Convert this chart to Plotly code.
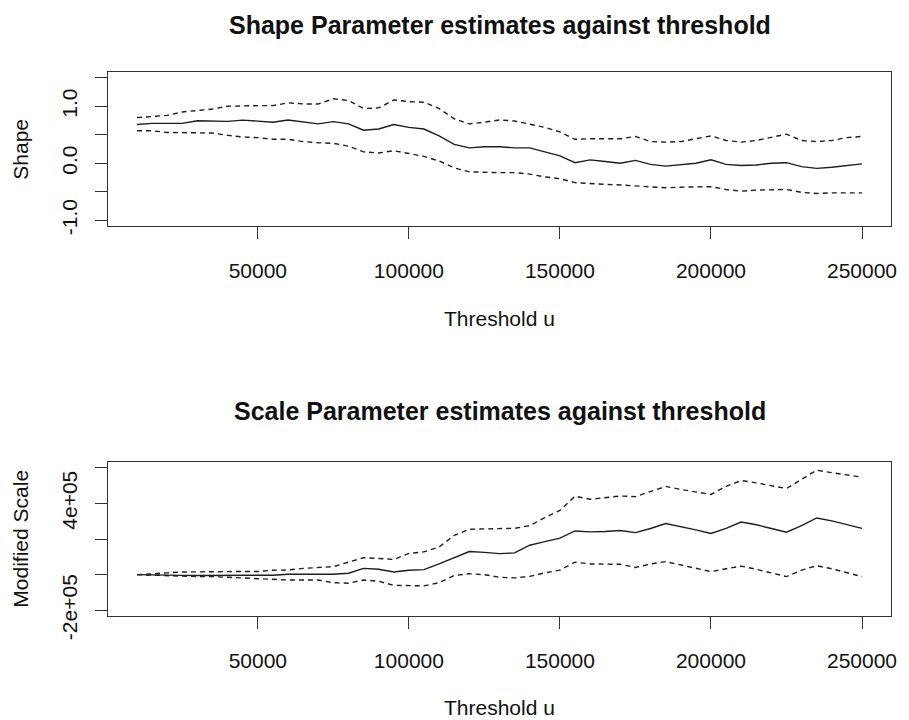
import plotly.graph_objects as go

thresholds = list(range(10000, 250001, 5000))

shape_est = [0.68, 0.70, 0.70, 0.70, 0.745, 0.735, 0.735, 0.757, 0.74, 0.72,
             0.757, 0.72, 0.69, 0.73, 0.69, 0.58, 0.60, 0.68, 0.63, 0.60,
             0.48, 0.33, 0.27, 0.29, 0.29, 0.27, 0.27, 0.20, 0.13, 0.01,
             0.06, 0.03, 0.00, 0.05, -0.02, -0.05, -0.03, 0.00, 0.06, -0.02,
             -0.04, -0.03, 0.00, 0.01, -0.06, -0.09, -0.07, -0.04, -0.01]
shape_upper = [0.80, 0.82, 0.84, 0.90, 0.93, 0.95, 1.00, 1.01, 1.01, 1.01,
               1.06, 1.04, 1.04, 1.13, 1.10, 0.96, 0.97, 1.11, 1.08, 1.07,
               0.96, 0.78, 0.69, 0.72, 0.76, 0.74, 0.69, 0.63, 0.55, 0.42,
               0.43, 0.43, 0.43, 0.47, 0.38, 0.37, 0.38, 0.43, 0.48, 0.40,
               0.37, 0.40, 0.45, 0.51, 0.40, 0.38, 0.40, 0.45, 0.47]
shape_lower = [0.57, 0.57, 0.54, 0.54, 0.54, 0.53, 0.49, 0.46, 0.45, 0.42,
               0.42, 0.38, 0.36, 0.35, 0.30, 0.20, 0.18, 0.22, 0.17, 0.12,
               0.04, -0.08, -0.15, -0.16, -0.165, -0.165, -0.19, -0.24, -0.27, -0.34,
               -0.36, -0.37, -0.38, -0.40, -0.41, -0.43, -0.42, -0.41, -0.41, -0.46,
               -0.49, -0.47, -0.46, -0.46, -0.51, -0.53, -0.52, -0.52, -0.52]

scale_est = [0, 0, -2000, -4000, -5000, -5000, -5000, -4000, -3000, -3000,
             2000, 3000, 0, 2000, 8000, 35000, 30000, 15000, 25000, 28000,
             60000, 95000, 130000, 125000, 118000, 122000, 165000, 185000, 205000, 245000,
             240000, 242000, 248000, 236000, 259000, 287000, 270000, 251000, 231000, 260000,
             295000, 280000, 259000, 238000, 275000, 318000, 302000, 280000, 260000]
scale_upper = [0, 3000, 10000, 15000, 17000, 17000, 17000, 18000, 18000, 25000,
               26000, 35000, 39000, 45000, 70000, 95000, 91000, 85000, 119000, 128000,
               155000, 220000, 255000, 258000, 258000, 260000, 275000, 320000, 360000, 440000,
               423000, 430000, 441000, 438000, 465000, 495000, 478000, 465000, 450000, 495000,
               528000, 515000, 498000, 483000, 535000, 586000, 572000, 560000, 547000]
scale_lower = [0, -3000, -8000, -11000, -11000, -11000, -15000, -21000, -21000, -25000,
               -30000, -30000, -30000, -45000, -48000, -30000, -37000, -60000, -63000, -63000,
               -45000, -5000, 5000, 0, -15000, -18000, -10000, 10000, 25000, 70000,
               60000, 58000, 58000, 40000, 60000, 73000, 55000, 35000, 17000, 33000,
               48000, 30000, 10000, -11000, 25000, 50000, 33000, 13000, -11000]

x_ticks = [50000, 100000, 150000, 200000, 250000]
x_ticktext = ["50000", "100000", "150000", "200000", "250000"]
shape_ticks = [-1.0, -0.5, 0.0, 0.5, 1.0, 1.5]
shape_ticktext = ["-1.0", "", "0.0", "", "1.0", ""]
scale_ticks = [-200000, 0, 200000, 400000, 600000]
scale_ticktext = ["-2e+05", "", "", "4e+05", ""]

titles = ["Shape Parameter estimates against threshold",
          "Scale Parameter estimates against threshold"]
ylabels = ["Shape", "Modified Scale"]
xlabel = "Threshold u"

LINE = "#1e1e1e"
FONT = "Liberation Sans, Arial, sans-serif"
DASH = "5px,4px"

fig = go.Figure()
series = [
    ("x", "y", shape_est, shape_upper, shape_lower),
    ("x2", "y2", scale_est, scale_upper, scale_lower),
]
for xa, ya, est, up, lo in series:
    fig.add_trace(go.Scatter(x=thresholds, y=est, mode="lines", xaxis=xa, yaxis=ya,
                             line=dict(color=LINE, width=1.4), showlegend=False))
    fig.add_trace(go.Scatter(x=thresholds, y=up, mode="lines", xaxis=xa, yaxis=ya,
                             line=dict(color=LINE, width=1.4, dash=DASH), showlegend=False))
    fig.add_trace(go.Scatter(x=thresholds, y=lo, mode="lines", xaxis=xa, yaxis=ya,
                             line=dict(color=LINE, width=1.4, dash=DASH), showlegend=False))

xrng = [10000 - 0.04 * 240000, 250000 + 0.04 * 240000]
axis_common = dict(showgrid=False, zeroline=False, showline=True, linecolor="#333333",
                   linewidth=1, mirror=True, ticks="outside", ticklen=12, tickwidth=1,
                   tickcolor="#333333", tickfont=dict(family=FONT, size=21, color="#111111"))

h_top = (226 - 72) / 544.0
fig.update_layout(
    width=909, height=720,
    margin=dict(l=108, r=12, t=72, b=104),
    paper_bgcolor="white", plot_bgcolor="white",
    xaxis=dict(domain=[0, 1], range=xrng, tickvals=x_ticks, ticktext=x_ticktext,
               anchor="y", ticklabelstandoff=14, **axis_common),
    yaxis=dict(domain=[1 - h_top, 1], range=[-1.1, 1.6], tickvals=shape_ticks,
               ticktext=shape_ticktext, tickangle=-90, anchor="x", ticklabelstandoff=10,
               **axis_common),
    xaxis2=dict(domain=[0, 1], range=xrng, tickvals=x_ticks, ticktext=x_ticktext,
                anchor="y2", ticklabelstandoff=14, **axis_common),
    yaxis2=dict(domain=[0, h_top], range=[-232000, 632000], tickvals=scale_ticks,
                ticktext=scale_ticktext, tickangle=-90, anchor="x2", ticklabelstandoff=10,
                **axis_common),
)

def py(p):
    return (616 - p) / 544.0

ann = []
for title, ty in zip(titles, [25, 411]):
    ann.append(dict(text="<b>%s</b>" % title, x=0.5, y=py(ty), xref="paper", yref="paper",
                    showarrow=False, xanchor="center", yanchor="middle",
                    font=dict(family=FONT, size=25, color="#111111")))
for ty in [318, 707]:
    ann.append(dict(text=xlabel, x=0.5, y=py(ty), xref="paper", yref="paper",
                    showarrow=False, xanchor="center", yanchor="middle",
                    font=dict(family=FONT, size=21, color="#111111")))
for lab, ty in zip(ylabels, [149, 539]):
    ann.append(dict(text=lab, x=(19 - 108) / 789.0, y=py(ty), xref="paper", yref="paper",
                    showarrow=False, xanchor="center", yanchor="middle", textangle=-90,
                    font=dict(family=FONT, size=21, color="#111111")))
fig.update_layout(annotations=ann)

fig.write_html("out.html")
